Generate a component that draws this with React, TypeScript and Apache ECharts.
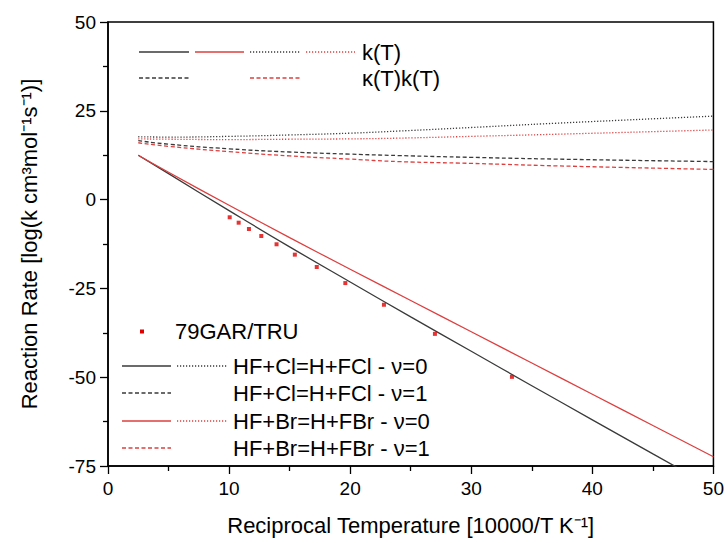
import React, { useEffect, useRef } from "react";
import * as echarts from "echarts";

const xTicks = [0, 10, 20, 30, 40, 50];
const xs = [2.5, 5, 10, 15, 20, 25, 30, 35, 40, 45, 50];
const clV0 = [12.5, 7.3, -3.1, -13.3, -23.2, -33.0, -42.7, -52.4, -62.0, -71.6, -81.1];
const brV0 = [12.5, 7.7, -1.6, -10.7, -19.6, -28.4, -37.2, -46.0, -54.8, -63.6, -72.4];
const cxs = [2.5, 5, 10, 15, 20, 24, 30, 37, 50];
const clV0dot = [17.7, 17.6, 17.8, 18.2, 18.7, 19.3, 20.3, 21.5, 23.5];
const brV0dot = [17.1, 17.0, 16.9, 17.0, 17.1, 17.3, 17.8, 18.4, 19.6];
const clV1 = [16.6, 15.6, 14.3, 13.4, 12.8, 12.4, 11.9, 11.4, 10.7];
const brV1 = [16.0, 15.0, 13.5, 12.3, 11.4, 10.7, 10.2, 9.5, 8.5];
const expX = [10.05, 10.79, 11.64, 12.66, 13.92, 15.43, 17.24, 19.6, 22.79, 27.0, 33.36];
const expY = [-4.98, -6.5, -8.28, -10.25, -12.58, -15.5, -18.98, -23.5, -29.6, -37.8, -49.9];

const legendLabels = [
  "HF+Cl=H+FCl - ν=0",
  "HF+Cl=H+FCl - ν=1",
  "HF+Br=H+FBr - ν=0",
  "HF+Br=H+FBr - ν=1",
];

const BLACK = "#3a3a3a";
const RED = "#dd3f3f";
const DOT = [1.2, 1.8];
const DASH = [4, 2.5];
const FONT = "Liberation Sans, Arial, sans-serif";

function pair(x: number[], y: number[]) {
  return x.map((v, i) => [v, y[i]]);
}

function seg(x1: number, x2: number, y: number, stroke: string, dash: number[] | null) {
  return {
    type: "line",
    shape: { x1, y1: y, x2, y2: y },
    style: { stroke, lineWidth: 1.3, lineDash: dash || undefined },
  };
}

function txt(x: number, y: number, text: string) {
  return {
    type: "text",
    x,
    y,
    style: { text, fill: "#000", font: `22px ${FONT}`, textVerticalAlign: "middle" },
  };
}

export default function App() {
  const ref = useRef<HTMLDivElement>(null);
  useEffect(() => {
    if (!ref.current) return;
    const chart = echarts.init(ref.current, undefined, { renderer: "svg" });
    const line = (name: string, data: number[][], color: string, dash: any, smooth: boolean) => ({
      name,
      type: "line",
      data,
      showSymbol: false,
      symbol: "none",
      smooth,
      lineStyle: { color, width: 1.3, type: dash },
      z: 2,
    });
    const rows = [366, 393, 421, 448];
    chart.setOption({
      animation: false,
      backgroundColor: "#fff",
      grid: {
        left: 108,
        right: 12,
        top: 22,
        bottom: 77,
        show: true,
        borderColor: "#000",
        borderWidth: 1.5,
      },
      xAxis: {
        type: "value",
        min: 0,
        max: 50,
        interval: 10,
        name: "Reciprocal Temperature [10000/T K⁻¹]",
        nameLocation: "middle",
        nameGap: 48,
        nameTextStyle: { fontSize: 22, fontFamily: FONT, color: "#000" },
        axisLine: { show: true, onZero: false, lineStyle: { color: "#000", width: 1.5 } },
        axisTick: { show: true, inside: false, length: 8, lineStyle: { color: "#000", width: 1.3 } },
        minorTick: { show: true, splitNumber: 2, length: 5, lineStyle: { color: "#000", width: 1.3 } },
        splitLine: { show: false },
        axisLabel: { fontSize: 19, fontFamily: FONT, color: "#000", margin: 13, formatter: (v: number) => (xTicks.includes(v) ? String(v) : "") },
      },
      yAxis: {
        type: "value",
        min: -75,
        max: 50,
        interval: 25,
        name: "Reaction Rate [log(k cm³mol⁻¹s⁻¹)]",
        nameLocation: "middle",
        nameGap: 68,
        nameTextStyle: { fontSize: 22, fontFamily: FONT, color: "#000" },
        axisLine: { show: true, onZero: false, lineStyle: { color: "#000", width: 1.5 } },
        axisTick: { show: true, inside: false, length: 8, lineStyle: { color: "#000", width: 1.3 } },
        minorTick: { show: true, splitNumber: 2, length: 5, lineStyle: { color: "#000", width: 1.3 } },
        splitLine: { show: false },
        axisLabel: { fontSize: 19, fontFamily: FONT, color: "#000", margin: 12 },
      },
      series: [
        line("Cl v0 k", pair(xs, clV0), BLACK, "solid", true),
        line("Br v0 k", pair(xs, brV0), RED, "solid", true),
        line("Cl v0 dot", pair(cxs, clV0dot), BLACK, DOT, true),
        line("Br v0 dot", pair(cxs, brV0dot), RED, DOT, true),
        line("Cl v1", pair(cxs, clV1), BLACK, DASH, true),
        line("Br v1", pair(cxs, brV1), RED, DASH, true),
        {
          name: "79GAR/TRU",
          type: "scatter",
          data: pair(expX, expY),
          symbol: "rect",
          symbolSize: 4,
          itemStyle: { color: "#e00000" },
          z: 3,
        },
      ],
      graphic: [
        seg(139, 189, 52, BLACK, null),
        seg(195, 244, 52, RED, null),
        seg(250, 300, 52, BLACK, DOT),
        seg(306, 355, 52, RED, DOT),
        txt(362, 52, "k(T)"),
        seg(139, 189, 78, BLACK, DASH),
        seg(250, 300, 78, RED, DASH),
        txt(362, 78, "κ(T)k(T)"),
        { type: "rect", shape: { x: 140, y: 329.5, width: 4, height: 4 }, style: { fill: "#e00000" } },
        txt(175, 331, "79GAR/TRU"),
        seg(122, 171, rows[0], BLACK, null),
        seg(177, 227, rows[0], BLACK, DOT),
        txt(233, rows[0], legendLabels[0]),
        seg(122, 171, rows[1], BLACK, DASH),
        txt(233, rows[1], legendLabels[1]),
        seg(122, 171, rows[2], RED, null),
        seg(177, 227, rows[2], RED, DOT),
        txt(233, rows[2], legendLabels[2]),
        seg(122, 171, rows[3], RED, DASH),
        txt(233, rows[3], legendLabels[3]),
      ],
    });
    return () => chart.dispose();
  }, []);
  return <div ref={ref} style={{ width: 727, height: 543, position: "absolute", left: 0, top: 0 }} />;
}
